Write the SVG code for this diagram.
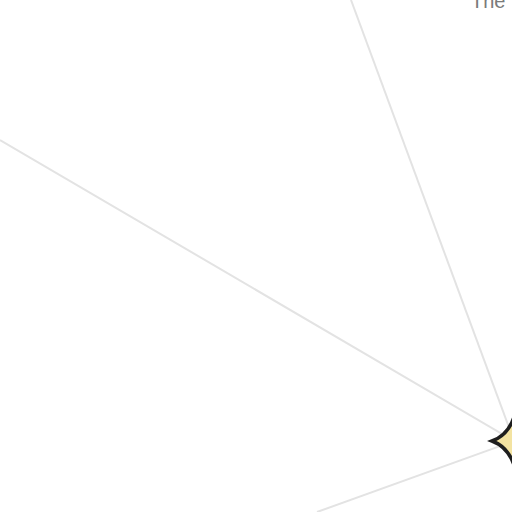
<svg xmlns="http://www.w3.org/2000/svg" width="512" height="512" viewBox="0 0 512 512">
<style>
.edge{stroke:#e3e3e3;stroke-width:2;fill:none}
.star{fill:#f3e3a1;stroke:#1e1e1e;stroke-width:3.5;stroke-linejoin:miter;stroke-miterlimit:10}
.lbl{font-family:"Liberation Sans",Arial,sans-serif;font-size:20px;fill:#7a7a7a}
</style>
<rect width="512" height="512" fill="#ffffff"/>
<g id="connectors">
<line class="edge" x1="351" y1="0" x2="514" y2="441"/>
<line class="edge" x1="0" y1="140" x2="514" y2="441"/>
<line class="edge" x1="317" y1="512" x2="514" y2="441"/>
</g>
<g id="star-node">
<path class="star" d="M492,441 Q508,435 514,417 Q520,435 536,441 Q520,447 514,465 Q508,447 492,441 Z"/>
</g>
<g id="title">
<text class="lbl" x="471" y="8">The</text>
</g>
</svg>
